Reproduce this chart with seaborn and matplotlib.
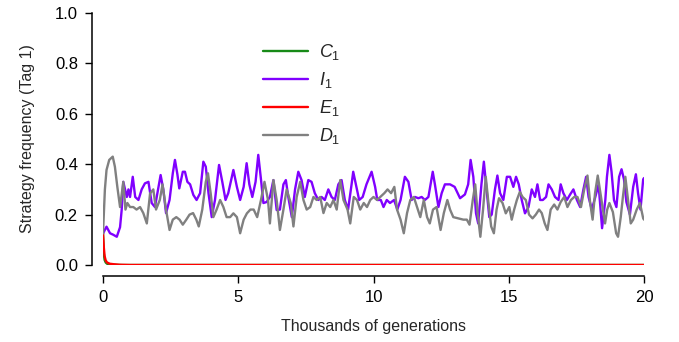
import numpy as np
import pandas as pd
import matplotlib
matplotlib.use("Agg")
import matplotlib.pyplot as plt
import seaborn as sns

# Values (generation in thousands, frequency)
c1_points = [(0.0, 0.125), (0.03, 0.045), (0.06, 0.02), (0.1, 0.01), (0.15, 0.005),
             (0.25, 0.002), (0.4, 0.001), (0.7, 0.0), (20.0, 0.0)]
e1_points = [(0.0, 0.125), (0.03, 0.07), (0.06, 0.035), (0.1, 0.018), (0.15, 0.01),
             (0.25, 0.005), (0.4, 0.003), (0.6, 0.001), (1.0, 0.0), (20.0, 0.0)]

i1_points = [
    (0.0, 0.125), (0.13, 0.152), (0.26, 0.126), (0.38, 0.12), (0.51, 0.112), (0.63, 0.15),
    (0.69, 0.218), (0.75, 0.33), (0.88, 0.27), (0.94, 0.30), (1.0, 0.27), (1.1, 0.35),
    (1.19, 0.27), (1.31, 0.258), (1.43, 0.30), (1.55, 0.324), (1.68, 0.33), (1.8, 0.246),
    (1.92, 0.23), (2.05, 0.31), (2.13, 0.357), (2.23, 0.30), (2.33, 0.206), (2.46, 0.258),
    (2.58, 0.364), (2.66, 0.417), (2.75, 0.36), (2.82, 0.304), (2.95, 0.37), (3.03, 0.37),
    (3.12, 0.33), (3.22, 0.32), (3.34, 0.278), (3.46, 0.258), (3.59, 0.285), (3.71, 0.41),
    (3.8, 0.39), (3.9, 0.285), (4.02, 0.19), (4.14, 0.258), (4.29, 0.397), (4.41, 0.33),
    (4.53, 0.258), (4.63, 0.285), (4.82, 0.377), (4.95, 0.31), (5.07, 0.258), (5.2, 0.31),
    (5.31, 0.404), (5.41, 0.32), (5.52, 0.27), (5.64, 0.33), (5.74, 0.437), (5.84, 0.34),
    (5.93, 0.246), (6.05, 0.25), (6.17, 0.27), (6.3, 0.337), (6.42, 0.218), (6.54, 0.22),
    (6.67, 0.32), (6.76, 0.337), (6.85, 0.27), (6.98, 0.19), (7.1, 0.30), (7.22, 0.37),
    (7.34, 0.337), (7.46, 0.27), (7.59, 0.337), (7.71, 0.33), (7.83, 0.285), (7.96, 0.258),
    (8.08, 0.27), (8.2, 0.258), (8.33, 0.30), (8.45, 0.27), (8.57, 0.258), (8.7, 0.32),
    (8.82, 0.337), (8.94, 0.258), (9.06, 0.22), (9.19, 0.32), (9.25, 0.37), (9.35, 0.32),
    (9.47, 0.258), (9.6, 0.27), (9.74, 0.32), (9.93, 0.37), (10.06, 0.31), (10.14, 0.258),
    (10.27, 0.258), (10.37, 0.23), (10.49, 0.258), (10.61, 0.246), (10.76, 0.258), (10.88, 0.22),
    (11.0, 0.258), (11.16, 0.35), (11.29, 0.33), (11.41, 0.258), (11.53, 0.27), (11.66, 0.265),
    (11.78, 0.27), (11.9, 0.258), (12.03, 0.27), (12.19, 0.37), (12.27, 0.32), (12.4, 0.23),
    (12.52, 0.285), (12.64, 0.32), (12.83, 0.32), (13.0, 0.31), (13.2, 0.265), (13.38, 0.28),
    (13.5, 0.32), (13.59, 0.417), (13.69, 0.35), (13.79, 0.205), (13.87, 0.165), (13.99, 0.32),
    (14.08, 0.41), (14.18, 0.30), (14.28, 0.19), (14.37, 0.20), (14.49, 0.30), (14.58, 0.355),
    (14.68, 0.285), (14.8, 0.258), (14.93, 0.35), (15.05, 0.35), (15.17, 0.31), (15.27, 0.35),
    (15.37, 0.32), (15.48, 0.258), (15.6, 0.205), (15.73, 0.23), (15.85, 0.30), (15.97, 0.27),
    (16.06, 0.32), (16.16, 0.258), (16.26, 0.258), (16.38, 0.27), (16.47, 0.32), (16.59, 0.30),
    (16.71, 0.27), (16.84, 0.258), (16.92, 0.32), (17.02, 0.285), (17.15, 0.258), (17.27, 0.28),
    (17.39, 0.30), (17.52, 0.258), (17.64, 0.23), (17.76, 0.30), (17.86, 0.35), (17.95, 0.27),
    (18.07, 0.22), (18.2, 0.27), (18.32, 0.32), (18.45, 0.146), (18.57, 0.258), (18.63, 0.35),
    (18.72, 0.437), (18.8, 0.37), (18.89, 0.258), (18.98, 0.23), (19.08, 0.35), (19.17, 0.38),
    (19.26, 0.34), (19.35, 0.25), (19.48, 0.20), (19.6, 0.31), (19.7, 0.36), (19.78, 0.285),
    (19.87, 0.22), (19.97, 0.34), (20.0, 0.345),
]

d1_points = [
    (0.0, 0.125), (0.07, 0.30), (0.13, 0.377), (0.23, 0.417), (0.36, 0.43), (0.44, 0.39),
    (0.53, 0.31), (0.63, 0.23), (0.75, 0.33), (0.83, 0.22), (0.9, 0.246), (1.0, 0.23),
    (1.12, 0.23), (1.24, 0.22), (1.37, 0.23), (1.49, 0.206), (1.62, 0.165), (1.74, 0.284),
    (1.86, 0.30), (1.96, 0.22), (2.1, 0.258), (2.2, 0.32), (2.33, 0.22), (2.46, 0.139),
    (2.58, 0.18), (2.71, 0.19), (2.83, 0.18), (2.95, 0.16), (3.08, 0.18), (3.2, 0.20),
    (3.33, 0.206), (3.45, 0.18), (3.54, 0.153), (3.67, 0.22), (3.8, 0.33), (3.88, 0.364),
    (3.98, 0.285), (4.08, 0.19), (4.2, 0.22), (4.33, 0.258), (4.45, 0.23), (4.57, 0.19),
    (4.7, 0.19), (4.82, 0.205), (4.95, 0.19), (5.07, 0.126), (5.2, 0.18), (5.32, 0.205),
    (5.45, 0.22), (5.57, 0.22), (5.7, 0.19), (5.84, 0.258), (5.97, 0.33), (6.1, 0.258),
    (6.17, 0.165), (6.3, 0.337), (6.42, 0.258), (6.54, 0.139), (6.67, 0.22), (6.79, 0.30),
    (6.94, 0.246), (7.04, 0.153), (7.16, 0.27), (7.29, 0.33), (7.41, 0.258), (7.53, 0.22),
    (7.66, 0.23), (7.78, 0.27), (7.9, 0.258), (8.03, 0.27), (8.15, 0.206), (8.27, 0.246),
    (8.4, 0.23), (8.52, 0.258), (8.64, 0.22), (8.77, 0.337), (8.89, 0.258), (9.04, 0.22),
    (9.14, 0.165), (9.27, 0.27), (9.39, 0.258), (9.51, 0.22), (9.64, 0.246), (9.76, 0.23),
    (9.88, 0.258), (10.0, 0.27), (10.13, 0.258), (10.25, 0.27), (10.4, 0.285), (10.52, 0.30),
    (10.65, 0.285), (10.77, 0.31), (10.87, 0.22), (11.0, 0.18), (11.12, 0.126), (11.24, 0.206),
    (11.36, 0.258), (11.49, 0.27), (11.61, 0.23), (11.73, 0.19), (11.86, 0.258), (11.98, 0.19),
    (12.08, 0.165), (12.2, 0.22), (12.33, 0.23), (12.48, 0.139), (12.6, 0.206), (12.73, 0.258),
    (12.83, 0.22), (12.95, 0.19), (13.14, 0.185), (13.32, 0.18), (13.45, 0.18), (13.55, 0.16),
    (13.67, 0.258), (13.76, 0.32), (13.85, 0.205), (13.95, 0.112), (14.05, 0.22), (14.15, 0.35),
    (14.25, 0.246), (14.35, 0.153), (14.45, 0.126), (14.55, 0.22), (14.64, 0.265), (14.77, 0.246),
    (14.89, 0.205), (15.02, 0.23), (15.11, 0.18), (15.2, 0.22), (15.3, 0.258), (15.41, 0.29),
    (15.51, 0.27), (15.63, 0.258), (15.75, 0.20), (15.88, 0.185), (16.0, 0.20), (16.12, 0.22),
    (16.22, 0.206), (16.33, 0.165), (16.43, 0.139), (16.55, 0.22), (16.68, 0.24), (16.8, 0.22),
    (16.92, 0.25), (17.05, 0.27), (17.17, 0.23), (17.3, 0.258), (17.42, 0.27), (17.54, 0.27),
    (17.67, 0.23), (17.79, 0.30), (17.91, 0.355), (18.01, 0.246), (18.1, 0.18), (18.19, 0.285),
    (18.29, 0.355), (18.39, 0.285), (18.48, 0.22), (18.56, 0.165), (18.64, 0.22), (18.72, 0.246),
    (18.85, 0.21), (18.97, 0.126), (19.04, 0.112), (19.14, 0.19), (19.22, 0.27), (19.31, 0.35),
    (19.41, 0.258), (19.51, 0.165), (19.6, 0.18), (19.73, 0.22), (19.85, 0.246), (19.97, 0.185),
    (20.0, 0.18),
]

strategies = ["$C_1$", "$I_1$", "$E_1$", "$D_1$"]
colors = ["#178a17", "#8000ff", "#ff0000", "#808080"]
x_ticks = [0, 5, 10, 15, 20]
y_ticks = [0.0, 0.2, 0.4, 0.6, 0.8, 1.0]

# long table for seaborn
frames = []
for name, pts in zip(strategies, [c1_points, i1_points, e1_points, d1_points]):
    tmp = pd.DataFrame(pts, columns=["gen", "freq"])
    tmp["strategy"] = name
    frames.append(tmp)
df = pd.concat(frames, ignore_index=True)

sns.set_style("ticks")
plt.rcParams["font.family"] = ["Liberation Sans", "DejaVu Sans"]
plt.rcParams["mathtext.fontset"] = "custom"
plt.rcParams["mathtext.rm"] = "Liberation Sans"
plt.rcParams["mathtext.it"] = "Liberation Sans:italic"

fig = plt.figure(figsize=(6.79, 3.42), dpi=100)
ax = fig.add_axes([103 / 679, 1 - 265 / 342, 541 / 679, 252 / 342])

sns.lineplot(data=df, x="gen", y="freq", hue="strategy", hue_order=strategies,
             palette=colors, estimator=None, sort=False, linewidth=1.7,
             legend=False, ax=ax)

ax.set_xlim(0, 20)
ax.set_ylim(0, 1)
ax.set_xticks(x_ticks)
ax.set_xticklabels([str(t) for t in x_ticks])
ax.set_yticks(y_ticks)
ax.set_yticklabels(["%.1f" % t for t in y_ticks])
ax.set_xlabel("Thousands of generations", fontsize=11.5, labelpad=10)
ax.set_ylabel("Strategy frequency (Tag 1)", fontsize=11.5, labelpad=14)
ax.tick_params(labelsize=12, length=5, width=1.0, colors="black", pad=5)

sns.despine(ax=ax)
for side in ["left", "bottom"]:
    ax.spines[side].set_position(("outward", 8))
    ax.spines[side].set_linewidth(1.1)
    ax.spines[side].set_color("black")

ax.legend(ax.lines[:4], strategies, loc="upper left", bbox_to_anchor=(0.296, 0.885),
          frameon=False, fontsize=13, handlelength=2.5, handletextpad=0.6,
          labelspacing=0.45, borderpad=0, borderaxespad=0)

fig.savefig("out.png", dpi=100)
